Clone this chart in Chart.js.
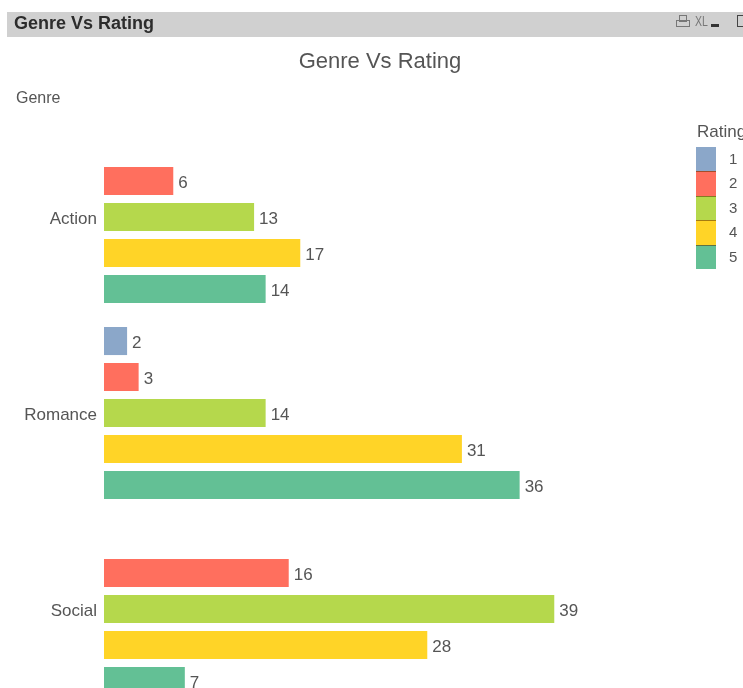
<!DOCTYPE html>
<html><head><meta charset="utf-8">
<script src="https://cdn.jsdelivr.net/npm/chart.js@4"></script>
<style>
html,body{margin:0;padding:0;background:#fff;overflow:hidden;width:743px;height:688px}
#page{position:relative;width:743px;height:688px;overflow:hidden;filter:blur(0.5px);font-family:"Liberation Sans",sans-serif}
#wrap{position:absolute;left:0;top:0;width:743px;height:760px}
.t{position:absolute;white-space:nowrap}
#bar{position:absolute;left:7px;top:12px;width:736px;height:25px;background:#d0d0d0}
.sw{position:absolute;left:696px;width:20px;height:24.4px;box-sizing:border-box}
canvas{display:block}
</style></head><body>
<div id="page">
<div id="wrap"><canvas id="c" width="743" height="760" style="width:743px;height:760px"></canvas></div>
<div id="bar"></div>
<div class="t" style="left:14px;top:11px;font:bold 18px/24px 'Liberation Sans';color:#2c2c2c">Genre Vs Rating</div>
<div class="t" style="left:210px;width:340px;text-align:center;top:47px;font:22px/28px 'Liberation Sans';color:#555">Genre Vs Rating</div>
<div class="t" style="left:16px;top:89px;font:16px/18px 'Liberation Sans';color:#555">Genre</div>
<div style="position:absolute;left:679px;top:15px;width:6px;height:5px;border:1px solid #777"></div>
<div style="position:absolute;left:676px;top:20px;width:12px;height:5px;border:1px solid #777"></div>
<div class="t" style="left:695px;top:11px;font:14px/20px 'Liberation Sans';color:#777;transform:scaleX(.75);transform-origin:left">XL</div>
<div style="position:absolute;left:711px;top:24px;width:8px;height:3px;background:#333"></div>
<div style="position:absolute;left:737px;top:15px;width:10px;height:10px;border:1.5px solid #444"></div>
<div class="t" style="left:697px;top:122px;font:17px/20px 'Liberation Sans';color:#555">Rating</div>
<div id="legend"></div>
</div>
<script>
const categories = ["Action", "Romance", "Social"];
const ratings = ["1", "2", "3", "4", "5"];
const rating1 = [null, 2, null];
const rating2 = [6, 3, 16];
const rating3 = [13, 14, 39];
const rating4 = [17, 31, 28];
const rating5 = [14, 36, 7];
const colors = ["#8ba7c9", "#ff6f5e", "#b5d84c", "#ffd427", "#63c095"];
const seriesValues = [rating1, rating2, rating3, rating4, rating5];

const leg = document.getElementById('legend');
ratings.forEach((r, i) => {
  const top = 147 + i * 24.4;
  const edge = i > 0 ? 'border-top:1px solid rgba(90,50,0,.55);' : '';
  leg.insertAdjacentHTML('beforeend',
    `<div class="sw" style="top:${top}px;background:${colors[i]};${edge}"></div>` +
    `<div class="t" style="left:729px;top:${top + 3}px;font:15px/18px 'Liberation Sans';color:#555">${r}</div>`);
});

const barLabels = {
  id: 'barLabels',
  afterDatasetsDraw(chart) {
    const ctx = chart.ctx;
    ctx.save();
    ctx.font = "17px 'Liberation Sans'";
    ctx.fillStyle = '#555';
    ctx.textAlign = 'left';
    ctx.textBaseline = 'middle';
    chart.data.datasets.forEach((ds, i) => {
      chart.getDatasetMeta(i).data.forEach((el, j) => {
        if (ds.data[j] != null) ctx.fillText(ds.data[j], el.x + 5, el.y + 2);
      });
    });
    ctx.restore();
  }
};

new Chart(document.getElementById('c'), {
  type: 'bar',
  plugins: [barLabels],
  data: {
    labels: categories,
    datasets: ratings.map((r, i) => ({
      label: r,
      data: seriesValues[i],
      backgroundColor: colors[i],
      barPercentage: 0.78,
      categoryPercentage: 0.918
    }))
  },
  options: {
    indexAxis: 'y',
    responsive: false,
    animation: false,
    devicePixelRatio: 1,
    layout: { padding: { top: 119, bottom: 53, left: 0, right: 4 } },
    plugins: { legend: { display: false }, title: { display: false }, tooltip: { enabled: false } },
    scales: {
      x: { min: 0, max: 55, display: false },
      y: {
        afterFit(s) { s.width = 104; },
        border: { display: false },
        grid: { display: false },
        ticks: { color: '#555', font: { family: "'Liberation Sans'", size: 17 }, padding: -1, labelOffset: 2 }
      }
    }
  }
});
</script>
</body></html>
